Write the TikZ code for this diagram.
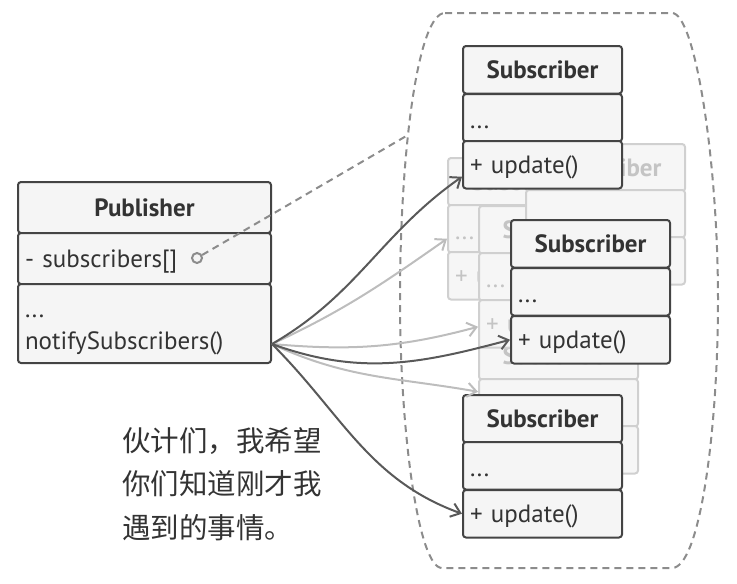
\documentclass[tikz,border=0pt]{standalone}
\usepackage{fontspec}
\setmainfont{PT Sans}
\newfontfamily\cjk{Noto Sans CJK SC}
\usetikzlibrary{arrows.meta}
\definecolor{boxline}{HTML}{444444}
\definecolor{boxfill}{HTML}{F5F5F5}
\definecolor{boxtext}{HTML}{333333}
\definecolor{ghostline}{HTML}{D0D0D0}
\definecolor{ghosttext}{HTML}{C4C4C4}
\definecolor{ghostfill}{HTML}{F6F6F6}
\definecolor{darkarrow}{HTML}{595959}
\definecolor{lightarrow}{HTML}{BDBDBD}
\definecolor{groupline}{HTML}{8C8C8C}

\begin{document}
\begin{tikzpicture}[x=1pt,y=-1pt,
        font=\fontsize{25}{30}\selectfont,
        box/.style={draw=boxline, fill=boxfill, text=boxtext, line width=2pt, rounded corners=3pt,
          anchor=north west, inner xsep=7pt, inner ysep=0pt, align=left},
        line row/.style={box, text width=145pt, minimum height=47.5pt, text height=22pt, text depth=5pt},
        dots row/.style={line row, text height=24pt, text depth=3pt},
        title row/.style={line row, align=center, font=\fontsize{25}{30}\selectfont\bfseries},
        ghost/.style={draw=ghostline, fill=ghostfill, text=ghosttext},
        dark arrow/.style={draw=darkarrow, line width=2pt, -{Straight Barb[length=9pt,width=14pt]}},
        light arrow/.style={draw=lightarrow, line width=2pt, -{Straight Barb[length=9pt,width=14pt]}},
        group line/.style={draw=groupline, line width=2pt, dash pattern=on 7pt off 5pt}]
        \useasboundingbox (0,0) rectangle (737,584);

        % subscribers group
        \draw[group line] (445,13) -- (672,13) .. controls (695,13) and (718,160) .. (718,300)
          .. controls (718,430) and (700,568) .. (672,568) -- (442,568)
          .. controls (418,568) and (400,430) .. (400,300)
          .. controls (400,150) and (418,13) .. (445,13) -- cycle;

        % publisher
        \begin{scope}[shift={(17,181)}]
          \node[title row,text width=239pt,minimum height=51pt] (pubt) at (0,0)  {Publisher};
          \node[line row, text width=239pt,minimum height=51pt] (puba) at (0,51) {- subscribers[]};
          \node[box,      text width=239pt,minimum height=79pt] (pubm) at (0,102){\rule{0pt}{26pt}...\\[2pt]notifySubscribers()};
        \end{scope}
        \node[circle,draw=groupline,line width=2pt,fill=boxfill,minimum size=10pt,inner sep=0pt] (pin) at (197,258) {};
        \coordinate (grp) at (408,135);
        \draw[group line] (pin) -- (grp);

        % ghost subscribers
        \begin{scope}[shift={(447,157)}]
          \node[title row,ghost] (gbt) at (0,0)  {Subscriber};
          \node[dots row, ghost] (gbd) at (0,47) {...};
          \node[line row, ghost] (gbu) at (0,94) {+ update()};
        \end{scope}
        \begin{scope}[shift={(478,331)}]
          \node[title row,ghost] (gdt) at (0,0)  {Subscriber};
          \node[dots row, ghost] (gdd) at (0,47) {...};
          \node[line row, ghost] (gdu) at (0,94) {+ update()};
        \end{scope}
        \begin{scope}[shift={(478,205)}]
          \node[title row,ghost] (gct) at (0,0)  {Subscriber};
          \node[dots row, ghost] (gcd) at (0,47) {...};
          \node[line row, ghost] (gcu) at (0,94) {+ update()};
        \end{scope}
        \begin{scope}[shift={(525,143)}]
          \node[title row,ghost] (gat) at (0,0)  {Subscriber};
          \node[dots row, ghost] (gad) at (0,46) {...};
          \node[line row, ghost] (gau) at (0,93) {+ update()};
        \end{scope}

        % subscribers
        \begin{scope}[shift={(462,45)}]
          \node[title row] (s1t) at (0,0)  {Subscriber};
          \node[dots row ] (s1d) at (0,48) {...};
          \node[line row ] (s1u) at (0,95) {+ update()};
        \end{scope}
        \begin{scope}[shift={(510,219)}]
          \node[title row] (s2t) at (0,0)  {Subscriber};
          \node[dots row ] (s2d) at (0,48) {...};
          \node[line row ] (s2u) at (0,96) {+ update()};
        \end{scope}
        \begin{scope}[shift={(462,394)}]
          \node[title row] (s3t) at (0,0)  {Subscriber};
          \node[dots row ] (s3d) at (0,47) {...};
          \node[line row ] (s3u) at (0,95) {+ update()};
        \end{scope}

        % notifications
        \coordinate (src) at (272,344);
        \draw[light arrow] (src) to[out=25, in=215] ([yshift=-10pt]gbd.west);
        \draw[light arrow] (src) to[out=-5, in=195] ([yshift=-3pt]gcu.west);
        \draw[light arrow] (src) to[out=-25,in=170] ([yshift=11pt]gdd.west);
        \draw[dark arrow]  (src) to[out=30, in=215] ([yshift=-12pt]s1u.west);
        \draw[dark arrow]  (src) to[out=-20,in=195] (s2u.west);
        \draw[dark arrow]  (src) to[out=-45,in=160] (s3u.west);

        \node[anchor=west,align=left,inner sep=0pt,text=boxtext,font=\cjk\fontsize{28.5}{43.5}\selectfont]
          (memo) at (122,484) {伙计们，我希望\\你们知道刚才我\\遇到的事情。};
\end{tikzpicture}
\end{document}
